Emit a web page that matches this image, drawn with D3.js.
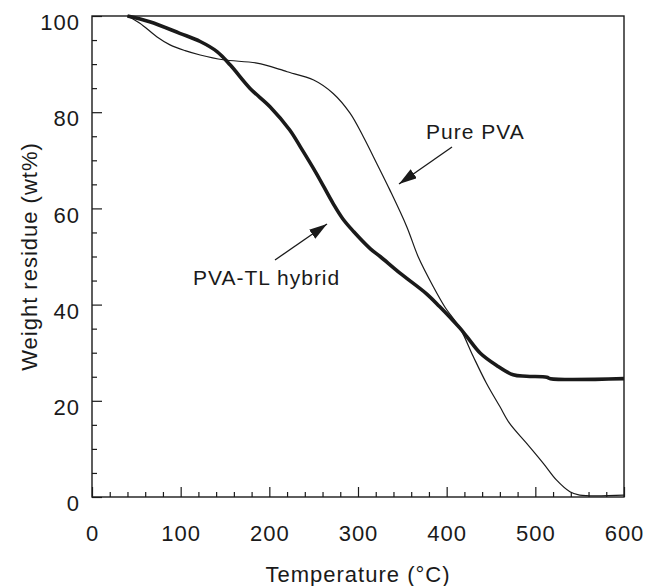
<!DOCTYPE html>
<html>
<head>
<meta charset="utf-8">
<script src="https://cdn.jsdelivr.net/npm/d3@7"></script>
<style>
  html, body { margin: 0; padding: 0; background: #fff; }
  svg text { font-family: Arial, "Liberation Sans", sans-serif; fill: #1a1a1a; letter-spacing: 1px; }
</style>
</head>
<body>
<div id="chart"></div>
<script>
// TGA curves: pure PVA vs PVA-TL hybrid
const pvaTemp   = [40, 54, 73, 88, 105, 122, 148, 186, 212, 220, 250, 272, 291, 306, 321, 336, 355, 368, 385, 398, 415, 430, 445, 460, 471, 490, 509, 524, 539, 550, 600];
const pvaWeight = [100, 98.5, 95.7, 94, 92.8, 91.9, 90.9, 90.2, 88.9, 88.4, 86.7, 83.9, 79.8, 74.9, 69.4, 63.8, 56.2, 49.9, 43.7, 39.5, 35.1, 29.2, 23.6, 18.8, 15.3, 11.2, 7.0, 3.5, 1.1, 0.4, 0.4];

const hybTemp   = [40, 65, 99, 122, 141, 156, 178, 201, 223, 235, 253, 272, 283, 295, 314, 325, 347, 377, 392, 404, 415, 423, 438, 456, 475, 490, 513, 517, 600];
const hybWeight = [100, 98.8, 96.4, 94.7, 92.6, 89.8, 85.0, 81.1, 76.3, 72.8, 67.3, 61.0, 57.8, 55.2, 51.6, 50.0, 46.6, 42.3, 39.6, 37.3, 35.1, 33.3, 29.9, 27.4, 25.4, 25.1, 24.9, 24.6, 24.6];

const xMajor = [0, 100, 200, 300, 400, 500, 600];
const yMajor = [0, 20, 40, 60, 80, 100];

const width = 648, height = 586;
const mLeft = 92, mRight = 624, mTop = 16, mBottom = 497;

const svg = d3.select("#chart").append("svg")
    .attr("width", width)
    .attr("height", height);

const x = d3.scaleLinear().domain([0, 600]).range([mLeft, mRight]);
const y = d3.scaleLinear().domain([0, 100]).range([mBottom, mTop]);

// minor ticks
const xMinor = d3.range(0, 601, 20).filter(v => v % 100 !== 0);
const yMinor = d3.range(0, 101, 5).filter(v => v % 20 !== 0);

svg.append("g")
    .attr("transform", `translate(0,${mBottom})`)
    .call(d3.axisBottom(x).tickValues(xMinor).tickSize(-5).tickFormat(""))
    .call(g => g.select(".domain").remove());
svg.append("g")
    .attr("transform", `translate(${mLeft},0)`)
    .call(d3.axisLeft(y).tickValues(yMinor).tickSize(-5).tickFormat(""))
    .call(g => g.select(".domain").remove());

const xAxis = svg.append("g")
    .attr("transform", `translate(0,${mBottom})`)
    .call(d3.axisBottom(x).tickValues(xMajor).tickSize(-10).tickPadding(28).tickFormat(d3.format("d")));
xAxis.select(".domain").remove();
xAxis.selectAll("text").style("font-size", "22px").attr("fill", "#1a1a1a");

const yAxis = svg.append("g")
    .attr("transform", `translate(${mLeft},0)`)
    .call(d3.axisLeft(y).tickValues(yMajor).tickSize(-10).tickPadding(12).tickFormat(d3.format("d")));
yAxis.select(".domain").remove();
yAxis.selectAll("text").style("font-size", "22px").attr("fill", "#1a1a1a").attr("dy", "0.62em");

svg.selectAll(".tick line").attr("stroke", "#1a1a1a").attr("stroke-width", 1.2);

// frame
svg.append("rect")
    .attr("x", mLeft).attr("y", mTop)
    .attr("width", mRight - mLeft).attr("height", mBottom - mTop)
    .attr("fill", "none").attr("stroke", "#1a1a1a").attr("stroke-width", 1.4);

const line = d3.line().curve(d3.curveCatmullRom.alpha(0.5));

svg.append("path")
    .attr("d", line(pvaTemp.map((t, i) => [x(t), y(pvaWeight[i])])))
    .attr("fill", "none").attr("stroke", "#1a1a1a").attr("stroke-width", 1.2);

svg.append("path")
    .attr("d", line(hybTemp.map((t, i) => [x(t), y(hybWeight[i])])))
    .attr("fill", "none").attr("stroke", "#1a1a1a").attr("stroke-width", 3.6)
    .attr("stroke-linejoin", "round");

// annotations
svg.append("defs").append("marker")
    .attr("id", "head")
    .attr("viewBox", "0 0 18 11")
    .attr("refX", 18).attr("refY", 5.5)
    .attr("markerWidth", 18).attr("markerHeight", 11)
    .attr("markerUnits", "userSpaceOnUse")
    .attr("orient", "auto")
    .append("path").attr("d", "M0,0 L18,5.5 L0,11 Z").attr("fill", "#1a1a1a");

function arrow(x1, y1, x2, y2) {
    svg.append("line")
        .attr("x1", x1).attr("y1", y1).attr("x2", x2).attr("y2", y2)
        .attr("stroke", "#1a1a1a").attr("stroke-width", 1.3)
        .attr("marker-end", "url(#head)");
}

svg.append("text").attr("x", 426).attr("y", 139).style("font-size", "21px").text("Pure PVA");
arrow(452, 147, 399, 184);

svg.append("text").attr("x", 193).attr("y", 285).style("font-size", "21px").text("PVA-TL hybrid");
arrow(275, 260, 327, 224);

// axis titles
svg.append("text")
    .attr("x", (mLeft + mRight) / 2).attr("y", 582)
    .attr("text-anchor", "middle").style("font-size", "22px")
    .text("Temperature (°C)");

svg.append("text")
    .attr("transform", `translate(37,${(mTop + mBottom) / 2}) rotate(-90)`)
    .attr("text-anchor", "middle").style("font-size", "22px")
    .text("Weight residue (wt%)");
</script>
</body>
</html>
